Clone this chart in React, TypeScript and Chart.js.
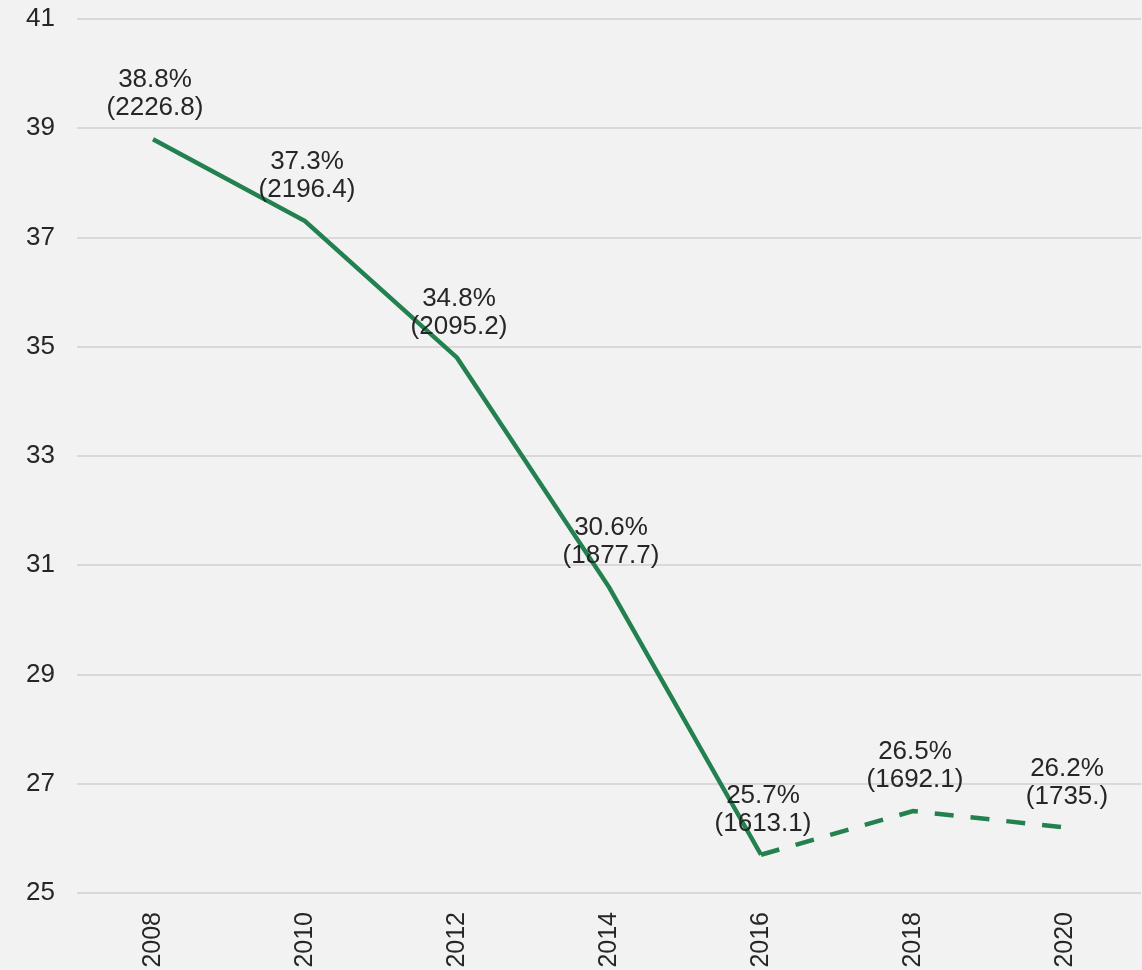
import React, { useEffect, useRef } from "react";
import { Chart, registerables } from "chart.js";

Chart.register(...registerables);

const years = ["2008", "2010", "2012", "2014", "2016", "2018", "2020"];
const rates = [38.8, 37.3, 34.8, 30.6, 25.7, 26.5, 26.2];
const rateLabels = ["38.8%", "37.3%", "34.8%", "30.6%", "25.7%", "26.5%", "26.2%"];
const countLabels = ["(2226.8)", "(2196.4)", "(2095.2)", "(1877.7)", "(1613.1)", "(1692.1)", "(1735.)"];
const projectedFrom = 4;

const FONT = "'Liberation Sans', Arial, sans-serif";
const GREEN = "#23804f";
const TEXT = "#262626";

const labelPlugin = {
  id: "twoLineLabels",
  afterDatasetsDraw(chart: any) {
    const ctx = chart.ctx;
    const meta = chart.getDatasetMeta(0);
    ctx.save();
    ctx.font = `26px ${FONT}`;
    ctx.fillStyle = TEXT;
    ctx.textAlign = "center";
    ctx.textBaseline = "middle";
    meta.data.forEach((pt: any, i: number) => {
      ctx.fillText(rateLabels[i], pt.x + 2, pt.y - 59);
      ctx.fillText(countLabels[i], pt.x + 2, pt.y - 31);
    });
    ctx.restore();
  },
};

export default function App() {
  const ref = useRef<HTMLCanvasElement>(null);
  useEffect(() => {
    document.body.style.margin = "0";
    document.body.style.background = "#f2f2f2";
    const chart = new Chart(ref.current!, {
      type: "line",
      data: {
        labels: years,
        datasets: [
          {
            data: rates,
            borderColor: GREEN,
            borderWidth: 4.5,
            pointRadius: 0,
            tension: 0,
            segment: {
              borderDash: (c: any) => (c.p0DataIndex >= projectedFrom ? [19, 17] : undefined),
            },
          },
        ],
      },
      options: {
        animation: false,
        responsive: false,
        maintainAspectRatio: false,
        layout: { padding: { top: 19, right: 1, left: 0, bottom: 0 } },
        plugins: { legend: { display: false }, tooltip: { enabled: false } },
        scales: {
          x: {
            offset: true,
            grid: { display: false, drawTicks: false },
            border: { display: false },
            ticks: {
              minRotation: 90,
              maxRotation: 90,
              padding: 19,
              color: TEXT,
              font: { family: FONT, size: 25 },
            },
            afterFit: (s: any) => {
              s.height = 77;
              s.paddingLeft = 0;
              s.paddingRight = 0;
              s.paddingTop = 0;
              s.paddingBottom = 0;
            },
          },
          y: {
            min: 25,
            max: 41,
            grid: { color: "#d9d9d9", lineWidth: 2, drawTicks: false },
            border: { display: false },
            ticks: {
              stepSize: 2,
              padding: 22,
              color: TEXT,
              font: { family: FONT, size: 26 },
            },
            afterFit: (s: any) => {
              s.width = 77;
              s.paddingTop = 0;
              s.paddingBottom = 0;
              s.paddingLeft = 0;
              s.paddingRight = 0;
            },
          },
        },
      },
      plugins: [labelPlugin],
    } as any);
    return () => chart.destroy();
  }, []);
  return (
    <div style={{ position: "absolute", left: 0, top: 0, width: 1142, height: 970, background: "#f2f2f2" }}>
      <canvas ref={ref} width={1142} height={970} style={{ display: "block" }} />
    </div>
  );
}
